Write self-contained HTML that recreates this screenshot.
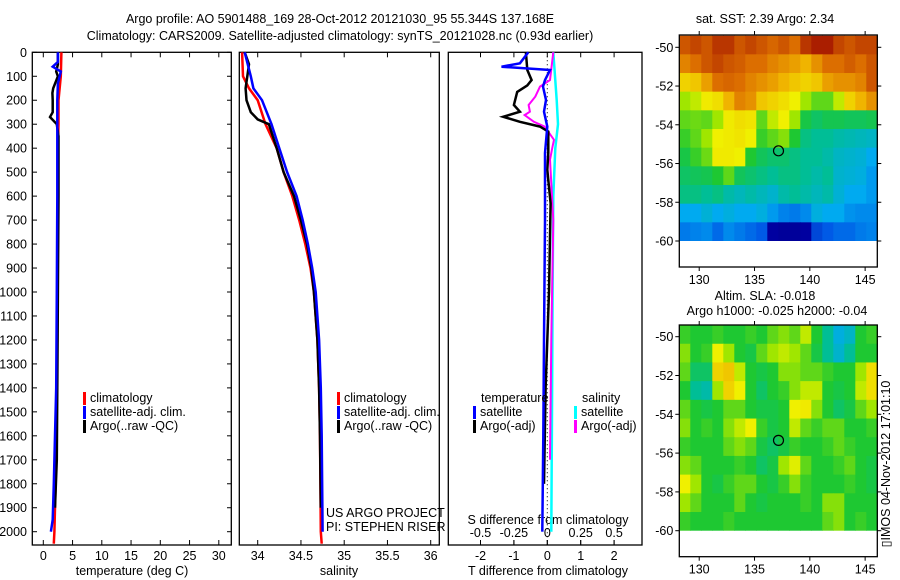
<!DOCTYPE html>
<html><head><meta charset="utf-8"><style>
body{margin:0;background:#fff;}
svg{display:block;font-family:"Liberation Sans",sans-serif;}
text{font-size:12.5px;fill:#000;}
</style></head><body>
<svg id="s" width="900" height="580" viewBox="0 0 900 580">
<text x="340" y="23" text-anchor="middle">Argo profile: AO 5901488_169 28-Oct-2012 20121030_95 55.344S 137.168E</text>
<text x="340" y="40" text-anchor="middle">Climatology: CARS2009. Satellite-adjusted climatology: synTS_20121028.nc (0.93d earlier)</text>
<text x="765" y="23" text-anchor="middle">sat. SST: 2.39 Argo: 2.34</text>
<text x="765" y="300" text-anchor="middle">Altim. SLA: -0.018</text>
<text x="777" y="315" text-anchor="middle">Argo h1000: -0.025 h2000: -0.04</text>
<text transform="translate(890,464) rotate(-90)" text-anchor="middle">▯IMOS 04-Nov-2012 17:01:10</text>
</svg>
<script>
// ---- data ----
const depthTicks=[0,100,200,300,400,500,600,700,800,900,1000,1100,1200,1300,1400,1500,1600,1700,1800,1900,2000];
const tTicks=[0,5,10,15,20,25,30];
const sTicks=[34,34.5,35,35.5,36];
const dTTicks=[-2,-1,0,1,2];
const dSTicks=[-0.5,-0.25,0,0.25,0.5];
const dSTickLabels=["-0.5","-0.25","0","0.25","0.5"];
const tClimD=[0,100,200,300,400,600,800,1000,1200,1400,1600,1800,2000,2050];
const tClimV=[3.1,3.0,2.6,2.6,2.5,2.5,2.5,2.4,2.4,2.3,2.2,2.1,1.9,1.8];
const tSatD=[0,40,60,80,130,200,300,600,1000,1400,1600,1800,1950,2000];
const tSatV=[2.5,2.5,1.6,3.0,2.5,2.4,2.4,2.4,2.3,2.2,2.0,1.8,1.6,1.3];
const tArgoD=[0,50,80,100,150,170,200,250,270,300,350,400,600,1000,1400,1700,1900];
const tArgoV=[2.5,2.5,2.2,2.5,1.7,1.55,1.6,1.6,1.15,2.3,2.6,2.6,2.6,2.5,2.4,2.3,2.0];
const sClimD=[0,100,150,200,300,400,500,600,700,800,900,1000,1200,1400,1600,2000,2050];
const sClimV=[33.82,33.83,33.9,34.0,34.09,34.22,34.3,34.4,34.48,34.55,34.61,34.65,34.69,34.71,34.72,34.73,34.74];
const sSatD=[0,100,150,200,300,400,500,600,700,800,900,1000,1200,1400,1600,2000];
const sSatV=[33.85,33.92,33.95,34.05,34.16,34.25,34.34,34.45,34.52,34.58,34.63,34.67,34.71,34.73,34.74,34.75];
const sArgoD=[0,50,100,150,200,250,280,300,400,500,600,700,800,900,1000,1200,1400,1600,1900];
const sArgoV=[33.85,33.9,33.88,33.86,33.87,33.92,34.0,34.13,34.22,34.3,34.42,34.5,34.57,34.62,34.65,34.69,34.71,34.72,34.73];
const dTSatD=[0,46,60,74,116,143,199,248,310,420,700,1200,1600,2000];
const dTSatV=[-0.57,-0.82,-1.37,0.08,-0.07,-0.13,-0.04,-0.1,0,-0.07,-0.07,-0.1,-0.12,-0.15];
const dTArgoD=[0,74,116,138,165,220,248,269,290,310,331,420,490,630,1000,1400,1800];
const dTArgoV=[-0.64,-0.6,-0.47,-0.6,-0.9,-1.0,-0.82,-1.32,-0.82,-0.22,0.03,0.03,0,0.1,0.05,-0.05,-0.1];
const dSArgoD=[0,116,143,185,220,248,262,290,310,365,392,448,700,1200,1700];
const dSArgoV=[0.045,0.02,-0.055,-0.09,-0.14,-0.13,-0.17,-0.1,-0.02,0.05,0.04,0.02,0.045,0.03,0.02];
const dSSatD=[0,200,300,400,600,1000,1500,2000];
const dSSatV=[0.045,0.07,0.08,0.06,0.045,0.04,0.035,0.03];
const lonTicks=[130,135,140,145];
const latTicks=[-50,-52,-54,-56,-58,-60];
const sstGrid=[
[0.88,0.9,0.88,0.92,0.92,0.88,0.9,0.88,0.86,0.88,0.85,0.92,0.95,0.95,0.9,0.88,0.9,0.9],
[0.82,0.85,0.88,0.9,0.88,0.87,0.85,0.85,0.82,0.8,0.78,0.75,0.8,0.85,0.85,0.87,0.85,0.88],
[0.7,0.72,0.78,0.85,0.86,0.85,0.82,0.8,0.78,0.75,0.72,0.7,0.72,0.78,0.8,0.8,0.82,0.88],
[0.6,0.62,0.66,0.68,0.75,0.82,0.8,0.72,0.7,0.68,0.65,0.6,0.55,0.55,0.62,0.7,0.75,0.8],
[0.55,0.56,0.55,0.6,0.66,0.68,0.67,0.55,0.62,0.65,0.6,0.48,0.45,0.47,0.47,0.46,0.46,0.47],
[0.52,0.55,0.6,0.65,0.66,0.67,0.65,0.52,0.55,0.58,0.5,0.42,0.4,0.4,0.38,0.37,0.36,0.35],
[0.48,0.52,0.56,0.66,0.66,0.65,0.5,0.46,0.44,0.44,0.42,0.4,0.4,0.38,0.35,0.34,0.33,0.3],
[0.45,0.46,0.47,0.5,0.55,0.46,0.44,0.42,0.4,0.42,0.42,0.4,0.38,0.4,0.34,0.33,0.32,0.28],
[0.42,0.42,0.4,0.42,0.38,0.36,0.38,0.36,0.34,0.38,0.4,0.38,0.36,0.38,0.33,0.3,0.3,0.28],
[0.3,0.3,0.33,0.3,0.32,0.3,0.3,0.32,0.28,0.25,0.24,0.26,0.32,0.3,0.3,0.27,0.26,0.26],
[0.24,0.25,0.26,0.22,0.26,0.24,0.22,0.2,0.1,0.08,0.08,0.1,0.18,0.2,0.22,0.22,0.24,0.25]];
const slaGrid=[
[0.52,0.5,0.5,0.52,0.5,0.5,0.52,0.5,0.55,0.58,0.55,0.62,0.5,0.4,0.32,0.35,0.5,0.52],
[0.58,0.5,0.52,0.65,0.6,0.5,0.48,0.55,0.6,0.62,0.6,0.55,0.48,0.4,0.34,0.4,0.5,0.5],
[0.55,0.45,0.45,0.7,0.72,0.62,0.5,0.48,0.5,0.58,0.58,0.55,0.55,0.52,0.5,0.5,0.6,0.68],
[0.5,0.4,0.38,0.6,0.7,0.65,0.5,0.45,0.5,0.52,0.58,0.62,0.62,0.5,0.48,0.5,0.62,0.68],
[0.55,0.5,0.48,0.5,0.55,0.55,0.5,0.48,0.48,0.5,0.65,0.66,0.58,0.5,0.45,0.48,0.55,0.6],
[0.58,0.5,0.52,0.5,0.58,0.62,0.65,0.52,0.48,0.5,0.62,0.55,0.52,0.55,0.55,0.5,0.5,0.52],
[0.52,0.5,0.5,0.5,0.55,0.58,0.55,0.48,0.45,0.48,0.52,0.5,0.5,0.52,0.55,0.52,0.5,0.5],
[0.58,0.55,0.5,0.5,0.5,0.52,0.5,0.45,0.48,0.6,0.64,0.55,0.5,0.5,0.52,0.55,0.5,0.48],
[0.65,0.6,0.5,0.48,0.52,0.55,0.55,0.5,0.48,0.52,0.58,0.52,0.5,0.5,0.5,0.52,0.5,0.48],
[0.6,0.55,0.5,0.5,0.5,0.55,0.5,0.48,0.5,0.5,0.5,0.52,0.5,0.58,0.58,0.5,0.5,0.5],
[0.52,0.5,0.5,0.5,0.52,0.5,0.5,0.5,0.5,0.5,0.5,0.5,0.5,0.55,0.58,0.5,0.52,0.5]];
const argoLon=137.168, argoLat=-55.344;

// ---- drawing ----
const NS='http://www.w3.org/2000/svg', svg=document.getElementById('s');
function mk(tag,attrs,parent){const e=document.createElementNS(NS,tag);for(const k in attrs)e.setAttribute(k,attrs[k]);(parent||svg).appendChild(e);return e;}
const yTop=52.3, yBot=545;
const yD=d=>yTop+d*0.2397;
const xT=t=>43.3+t*5.85;
const xS=s=>257.7+(s-34)*86.5;
const xDT=t=>547.3+t*33.4;
const xDS=s=>547.3+s*133.6;
function frame(x0,x1,name){const r=mk('rect',{x:x0,y:yTop,width:x1-x0,height:yBot-yTop,fill:'none',stroke:'#000','stroke-width':1.3});}
function xticks(vals,labels,f,name){vals.forEach((v,i)=>{const x=f(v);mk('line',{x1:x,x2:x,y1:yTop,y2:yTop+5,stroke:'#000'});mk('line',{x1:x,x2:x,y1:yBot,y2:yBot-5,stroke:'#000'});const t=mk('text',{x:x,y:yBot+15,'text-anchor':'middle'});t.textContent=labels[i];});}
function line(D,V,f,col,name,w){const p=D.map((d,i)=>f(V[i]).toFixed(1)+','+yD(d).toFixed(1)).join(' ');const e=mk('polyline',{points:p,fill:'none',stroke:col,'stroke-width':w||2.5});}
function legend(x,y,col,label,name){mk('rect',{x:x,y:y-10,width:3,height:13,fill:col});const t=mk('text',{x:x+7,y:y});t.textContent=label;}
function txt(x,y,s,name,anchor){const t=mk('text',{x:x,y:y,'text-anchor':anchor||'start'});t.textContent=s;}

// panel 1
frame(32.3,231.3,'temperature-panel');
depthTicks.forEach(d=>{const y=yD(d);mk('line',{x1:32.3,x2:37,y1:y,y2:y,stroke:'#000'});mk('line',{x1:231.3,x2:227,y1:y,y2:y,stroke:'#000'});
 const t=mk('text',{x:27,y:y+4.5,'text-anchor':'end'});t.textContent=d;});
xticks(tTicks,tTicks.map(String),xT,'temperature-tick-label');
txt(132,575,'temperature (deg C)','temperature-axis-title','middle');
line(tClimD,tClimV,xT,'#f00','temp-climatology-line');
line(tArgoD,tArgoV,xT,'#000','temp-argo-line');
line(tSatD,tSatV,xT,'#00f','temp-satellite-line');
legend(83,402,'#f00','climatology','legend-climatology');
legend(83,416,'#00f','satellite-adj. clim.','legend-satellite');
legend(83,430,'#000','Argo(..raw -QC)','legend-argo');

// panel 2
frame(239.3,439.3,'salinity-panel');
xticks(sTicks,sTicks.map(String),xS,'salinity-tick-label');
txt(339,575,'salinity','salinity-axis-title','middle');
line(sClimD,sClimV,xS,'#f00','sal-climatology-line');
line(sArgoD,sArgoV,xS,'#000','sal-argo-line');
line(sSatD,sSatV,xS,'#00f','sal-satellite-line');
legend(337,402,'#f00','climatology','legend-climatology-2');
legend(337,416,'#00f','satellite-adj. clim.','legend-satellite-2');
legend(337,430,'#000','Argo(..raw -QC)','legend-argo-2');
txt(326,517,'US ARGO PROJECT','project-label');
txt(326,531,'PI: STEPHEN RISER','pi-label');

// panel 3
frame(448.3,642,'difference-panel');
xticks(dTTicks,dTTicks.map(String),xDT,'t-diff-tick-label');
dSTicks.forEach((v,i)=>{const x=xDS(v);mk('line',{x1:x,x2:x,y1:yBot,y2:yBot-5,stroke:'#000'});const t=mk('text',{x:x,y:537,'text-anchor':'middle'});t.textContent=dSTickLabels[i];});
txt(548,524,'S difference from climatology','s-diff-axis-title','middle');
txt(548,575,'T difference from climatology','t-diff-axis-title','middle');
mk('line',{x1:xDT(0),x2:xDT(0),y1:yTop,y2:yBot,stroke:'#000','stroke-dasharray':'1,3'});
line(dSSatD,dSSatV,xDS,'#0ff','s-diff-satellite-line');
line(dSArgoD,dSArgoV,xDS,'#f0f','s-diff-argo-line',2);
line(dTArgoD,dTArgoV,xDT,'#000','t-diff-argo-line');
line(dTSatD,dTSatV,xDT,'#00f','t-diff-satellite-line');
txt(481,402,'temperature','legend-temperature-header');
legend(473,416,'#00f','satellite','legend-t-satellite');
legend(473,430,'#000','Argo(-adj)','legend-t-argo');
txt(582,402,'salinity','legend-salinity-header');
legend(574,416,'#0ff','satellite','legend-s-satellite');
legend(574,430,'#f0f','Argo(-adj)','legend-s-argo');

// maps
const cmapStops=[[0,0,0,130],[0.1,0,0,160],[0.2,0,90,230],[0.3,0,170,240],[0.4,0,190,150],[0.5,30,200,50],[0.6,160,230,0],[0.65,240,240,0],[0.75,240,180,0],[0.85,220,110,0],[0.95,170,30,0],[1,140,0,0]];
function cmap(v){v=Math.max(0,Math.min(1,v));for(let i=1;i<cmapStops.length;i++){const a=cmapStops[i-1],b=cmapStops[i];if(v<=b[0]){const f=(v-a[0])/(b[0]-a[0]);return 'rgb('+[1,2,3].map(k=>Math.round(a[k]+(b[k]-a[k])*f)).join(',')+')';}}return 'rgb(140,0,0)';}
function map(grid,x0,x1,yT,yB,y50,y60,name){
 const pxLat=(y60-y50)/10;
 const yL=l=>y50+(-50-l)*pxLat;
 const pxLon=(x1-x0)/(146.1-128.2);
 const xL=l=>x0+(l-128.2)*pxLon;
 const rows=grid.length, cols=grid[0].length;
 const latStep=(-49.4+60)/rows, lonStep=(146.1-128.2)/cols;
 grid.forEach((row,r)=>row.forEach((v,c)=>{
   const la0=-49.4-r*latStep, lo0=128.2+c*lonStep;
   const ya=Math.max(yT,yL(la0)), yb=yL(la0-latStep);
   const e=mk('rect',{x:xL(lo0).toFixed(2),y:ya.toFixed(2),width:(pxLon*lonStep+0.6).toFixed(2),height:(yb-ya+(r<rows-1?0.6:0)).toFixed(2),fill:cmap(v)});
   }));
 const fr=mk('rect',{x:x0,y:yT,width:x1-x0,height:yB-yT,fill:'none',stroke:'#000','stroke-width':1.3});
 
 lonTicks.forEach(l=>{const x=xL(l);mk('line',{x1:x,x2:x,y1:yT,y2:yT-4,stroke:'#000'});mk('line',{x1:x,x2:x,y1:yB,y2:yB+4,stroke:'#000'});
  const t=mk('text',{x:x,y:yB+17,'text-anchor':'middle'});t.textContent=l;});
 latTicks.forEach(l=>{const y=yL(l);mk('line',{x1:x0,x2:x0-4,y1:y,y2:y,stroke:'#000'});mk('line',{x1:x1,x2:x1+4,y1:y,y2:y,stroke:'#000'});
  const t=mk('text',{x:x0-6,y:y+4.5,'text-anchor':'end'});t.textContent=l;});
 const c=mk('circle',{cx:xL(argoLon),cy:yL(argoLat),r:5,fill:'none',stroke:'#000','stroke-width':1.2});
 
}
map(sstGrid,679.3,877.3,35,267,47.3,241,'sst-map');
map(slaGrid,679.3,877.3,325,556.7,336.7,530.7,'sla-map');
</script>
</body></html>
